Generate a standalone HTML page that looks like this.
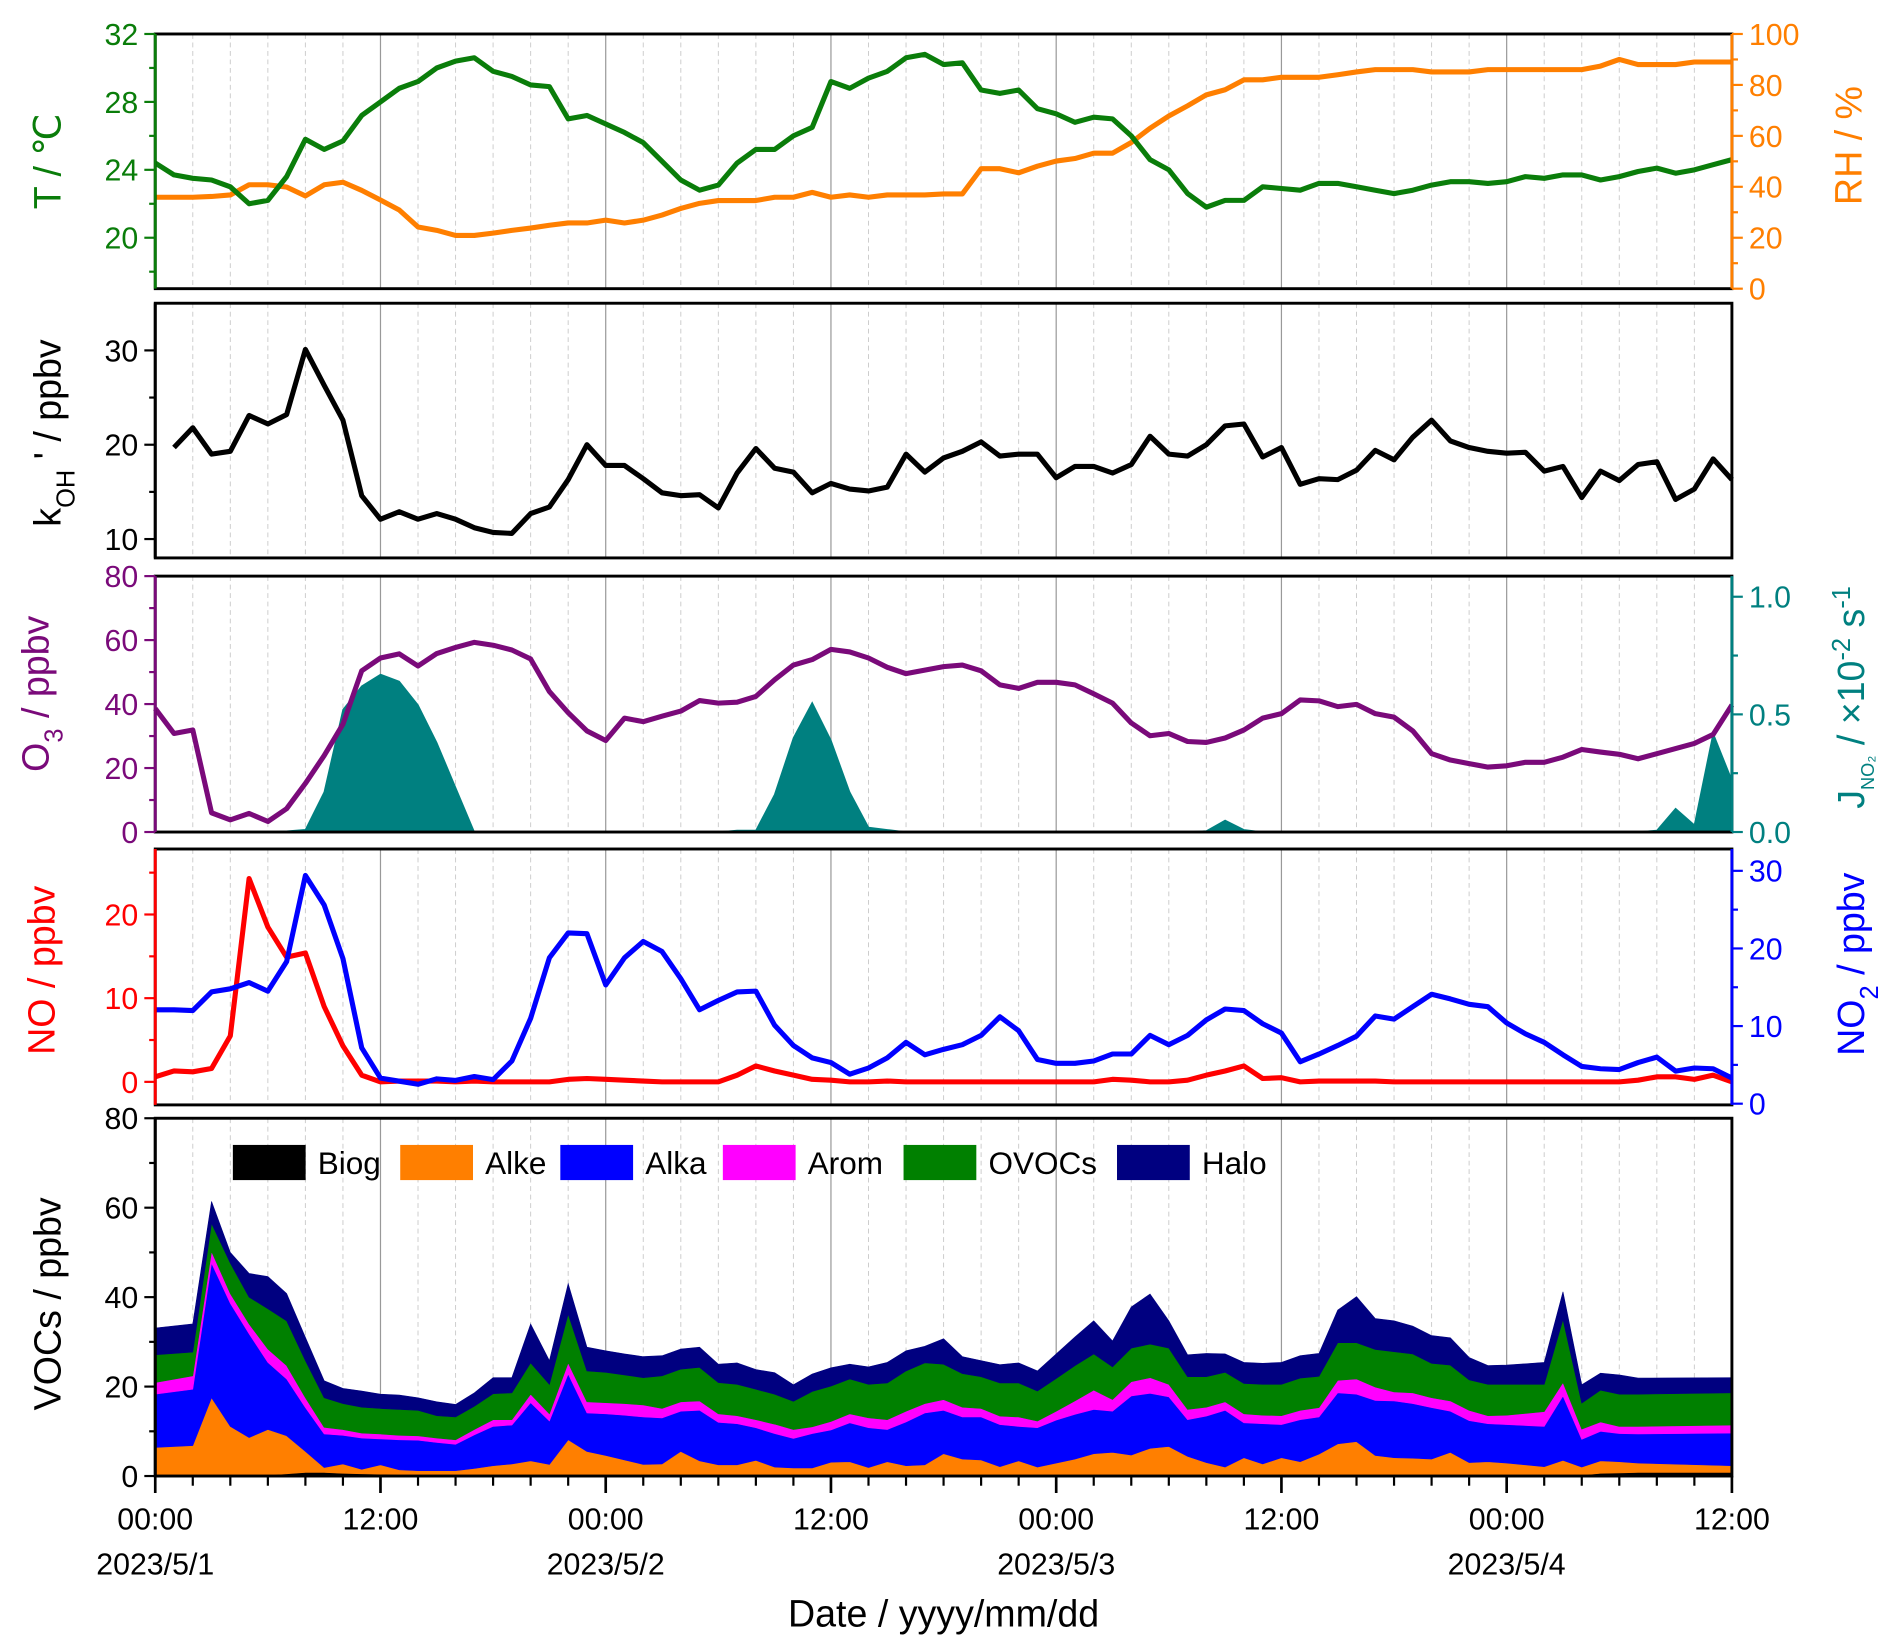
<!DOCTYPE html>
<html><head><meta charset="utf-8"><title>Time series chart</title>
<style>
html,body{margin:0;padding:0;background:#fff;}
svg{display:block;font-family:"Liberation Sans",Arial,sans-serif;}
</style></head>
<body>
<svg id="chart" width="1892" height="1649" viewBox="0 0 1560 1359.6" xmlns="http://www.w3.org/2000/svg"></svg>
<script>
// ---------- DATA ----------
const hourTicks = [0,12,24,36,48,60,72,84];
const hourTickLabels = ["00:00","12:00","00:00","12:00","00:00","12:00","00:00","12:00"];
const dateTicks = [0,24,48,72];
const dateLabels = ["2023/5/1","2023/5/2","2023/5/3","2023/5/4"];

const temperature = [24.4,23.7,23.5,23.4,23.0,22.0,22.2,23.6,25.8,25.2,25.7,27.2,28.0,28.8,29.2,30.0,30.4,30.6,29.8,29.5,29.0,28.9,27.0,27.2,26.7,26.2,25.6,24.5,23.4,22.8,23.1,24.4,25.2,25.2,26.0,26.5,29.2,28.8,29.4,29.8,30.6,30.8,30.2,30.3,28.7,28.5,28.7,27.6,27.3,26.8,27.1,27.0,26.0,24.6,24.0,22.6,21.8,22.2,22.2,23.0,22.9,22.8,23.2,23.2,23.0,22.8,22.6,22.8,23.1,23.3,23.3,23.2,23.3,23.6,23.5,23.7,23.7,23.4,23.6,23.9,24.1,23.8,24.0,24.3,24.6];
const humidity = [35.9,35.9,35.9,36.2,36.8,40.8,40.8,39.9,36.4,40.8,41.8,38.6,34.8,30.9,24.2,22.9,20.9,20.9,21.8,22.9,23.8,24.9,25.8,25.8,26.9,25.8,26.9,28.9,31.5,33.5,34.6,34.6,34.6,35.9,35.9,37.8,35.9,36.8,35.9,36.8,36.8,36.8,37.2,37.2,47.1,47.1,45.5,48.1,50.1,51.1,53.2,53.2,57.4,63.0,67.8,71.8,76.1,78.1,82.0,82.0,83.0,83.0,83.0,84.0,85.1,86.0,86.0,86.0,85.1,85.1,85.1,86,86,86,86,86,86,87.4,90.0,88.0,88,88,89,89,89];
const kOH = [null,19.7,21.8,19.0,19.3,23.1,22.2,23.2,30.1,26.3,22.6,14.6,12.1,12.9,12.1,12.7,12.1,11.2,10.7,10.6,12.7,13.4,16.3,20.0,17.8,17.8,16.4,14.9,14.6,14.7,13.3,17.0,19.6,17.5,17.1,14.9,15.9,15.3,15.1,15.5,19.0,17.1,18.6,19.3,20.3,18.8,19.0,19.0,16.5,17.7,17.7,17.0,17.9,20.9,19.0,18.8,20.0,22.0,22.2,18.7,19.7,15.8,16.4,16.3,17.3,19.4,18.4,20.8,22.6,20.4,19.7,19.3,19.1,19.2,17.2,17.7,14.4,17.2,16.2,17.9,18.2,14.2,15.3,18.5,16.3];
const ozone = [38.6,30.8,31.9,6.0,3.8,5.8,3.3,7.3,15.2,23.9,33.7,50.4,54.4,55.7,51.9,55.8,57.7,59.3,58.4,56.9,54.1,43.9,37.3,31.6,28.6,35.6,34.5,36.2,37.8,41.1,40.3,40.6,42.4,47.6,52.2,53.9,57.1,56.3,54.4,51.5,49.5,50.6,51.7,52.2,50.4,46.0,44.9,46.8,46.8,46.0,43.2,40.3,34.1,30.1,30.8,28.3,28.0,29.4,31.9,35.6,37.0,41.3,41.0,39.2,39.9,37.0,35.9,31.6,24.5,22.5,21.4,20.3,20.7,21.8,21.8,23.4,25.8,25.0,24.3,22.9,24.5,26.1,27.7,30.5,39.7];
const jNO2 = [0,0,0,0,0,0,0,0.004,0.01,0.17,0.52,0.62,0.67,0.64,0.54,0.38,0.19,0,0,0,0,0,0,0,0,0,0,0,0,0,0,0.007,0.007,0.16,0.40,0.55,0.39,0.17,0.02,0.01,0,0,0,0,0,0,0,0,0,0,0,0,0,0,0,0,0.005,0.05,0.01,0,0,0,0,0,0,0,0,0,0,0,0,0,0,0,0,0,0,0,0,0,0.007,0.10,0.03,0.42,0.22];
const no = [0.6,1.3,1.2,1.6,5.5,24.3,18.5,14.9,15.4,9.0,4.3,0.8,0,0.1,0.1,0.1,0,0.1,0,0,0,0,0.3,0.4,0.3,0.2,0.1,0,0,0,0,0.8,1.9,1.3,0.8,0.3,0.2,0,0,0.1,0,0,0,0,0,0,0,0,0,0,0,0.3,0.2,0,0,0.2,0.8,1.3,1.9,0.4,0.5,0,0.1,0.1,0.1,0.1,0,0,0,0,0,0,0,0,0,0,0,0,0,0.2,0.6,0.6,0.3,0.8,0];
const no2 = [12.1,12.1,12.0,14.4,14.8,15.6,14.5,18.3,29.4,25.6,18.7,7.2,3.3,2.9,2.5,3.2,3.0,3.5,3.1,5.5,11.0,18.8,22.0,21.9,15.3,18.8,20.9,19.6,16.1,12.1,13.3,14.4,14.5,10.1,7.5,5.9,5.3,3.8,4.6,5.9,7.9,6.3,7.0,7.6,8.8,11.2,9.4,5.7,5.2,5.2,5.5,6.4,6.4,8.8,7.6,8.8,10.8,12.2,12.0,10.3,9.1,5.4,6.4,7.5,8.7,11.3,10.9,12.5,14.1,13.5,12.8,12.5,10.4,9.0,7.9,6.3,4.8,4.5,4.4,5.3,6.0,4.2,4.6,4.5,3.3];

const vocHours = [0,2,3,4,5,6,7,8,9,10,11,12,13,14,15,16,17,18,19,20,21,22,23,24,25,26,27,28,29,30,31,32,33,34,35,36,37,38,39,40,41,42,43,44,45,46,47,48,49,50,51,52,53,54,55,56,57,58,59,60,61,62,63,64,65,66,67,68,69,70,71,72,74,75,76,77,78,79,84];
const biog = [0.2,0.2,0.2,0.2,0.2,0.2,0.5,0.8,0.8,0.6,0.5,0.4,0.3,0.3,0.3,0.2,0.2,0.2,0.2,0.2,0.2,0.2,0.2,0.2,0.2,0.2,0.2,0.2,0.2,0.2,0.2,0.2,0.2,0.2,0.2,0.2,0.2,0.2,0.2,0.2,0.2,0.2,0.2,0.2,0.2,0.2,0.2,0.2,0.2,0.2,0.2,0.2,0.2,0.2,0.2,0.2,0.2,0.2,0.2,0.2,0.2,0.2,0.2,0.2,0.2,0.2,0.2,0.2,0.2,0.2,0.2,0.2,0.2,0.2,0.2,0.6,0.7,0.8,0.8];
const alke = [6.2,6.6,17.3,10.9,8.4,10.2,8.5,4.7,1.1,2.1,1.0,2.1,1.1,0.9,0.9,1.0,1.5,2.1,2.5,3.2,2.4,7.9,5.3,4.4,3.4,2.4,2.5,5.3,3.2,2.3,2.3,3.3,1.8,1.6,1.6,2.9,3.0,1.7,3.0,2.1,2.3,4.8,3.6,3.4,1.9,3.2,1.8,2.7,3.6,4.8,5.1,4.5,6.0,6.4,4.2,2.8,1.8,3.9,2.5,3.9,3.0,4.7,7.0,7.5,4.4,3.9,3.8,3.6,5.1,2.8,3.0,2.7,1.9,3.3,1.8,2.8,2.5,2.1,1.5];
const alka = [11.9,12.6,30.1,27.5,23.2,15.0,12.7,9.8,7.5,6.4,7.0,5.8,6.7,6.8,6.3,5.9,7.5,8.8,8.7,13.0,9.7,14.7,8.6,9.3,10.0,10.6,10.3,9.0,11.3,9.5,9.2,7.3,7.5,6.6,7.7,7.2,8.7,8.9,7.2,9.8,11.6,9.7,9.4,9.6,9.4,7.7,8.8,9.6,10.0,9.9,9.2,13.2,12.3,11.1,8.2,10.4,12.7,7.8,9.0,7.4,9.4,8.3,11.4,10.6,12.3,12.7,12.2,11.5,9.2,9.4,8.5,8.6,9.0,14.4,6.2,6.6,6.3,6.5,7.3];
const arom = [2.6,3.0,2.6,2.2,2.2,3.0,3.0,2.2,1.5,1.3,1.1,1.1,1.0,1.0,1.0,1.0,1.2,1.5,1.2,1.9,1.6,2.5,2.5,2.5,2.6,2.7,2.1,2.1,2.1,1.9,1.8,1.8,2.1,2.0,1.5,1.9,2.0,2.2,2.2,2.4,2.1,2.4,2.2,1.9,1.9,2.1,1.5,2.0,3.0,4.3,2.6,3.2,3.5,2.8,2.3,2.0,1.9,2.0,1.9,2.0,2.1,2.1,2.8,3.4,3.0,2.0,2.4,2.2,2.3,2.3,1.8,2.1,3.3,3.0,2.3,2.1,1.6,1.7,1.8];
const ovocs = [6.2,5.3,6.3,6.8,6.0,9.0,10.0,8.3,6.6,5.8,5.8,5.7,5.8,5.7,5.0,5.1,5.2,5.8,6.0,7.0,6.6,10.9,6.9,6.8,6.4,6.1,7.3,7.3,7.5,7.0,7.0,6.8,6.7,6.3,7.9,7.9,7.8,7.5,8.2,9.0,9.1,7.9,7.5,7.1,7.4,7.6,6.7,7.3,7.9,8.1,7.3,7.5,7.5,8.1,7.3,6.8,6.6,6.8,6.9,7.0,7.2,7.0,8.4,8.1,8.4,9.0,8.7,7.7,8.0,6.8,7.0,6.9,6.1,14.1,5.8,7.1,7.2,7.2,7.2];
const halo = [6.0,6.3,4.9,2.4,5.3,7.2,6.1,5.2,3.8,3.4,3.6,3.2,3.2,2.8,3.1,2.8,3.0,3.6,3.4,8.7,5.3,6.8,5.3,4.8,4.7,4.7,4.5,4.5,4.5,4.1,4.8,4.4,4.8,3.7,3.9,4.1,3.3,3.9,4.6,4.5,3.7,5.7,3.8,3.6,4.1,4.5,4.5,5.5,6.4,7.4,5.8,9.2,11.2,6.1,4.9,5.2,4.1,4.7,4.7,4.9,5.0,5.1,7.3,10.3,6.9,6.9,6.2,6.2,6.1,5.0,4.2,4.3,4.9,6.2,4.1,3.8,4.3,3.6,3.4];
const vocNames = ["Biog","Alke","Alka","Arom","OVOCs","Halo"];

// ---------- HELPERS ----------
const NS = "http://www.w3.org/2000/svg";
const svg = document.getElementById("chart");
const X0 = 128, X1 = 1428, HMAX = 84;
function xs(h){ return X0 + h*(X1-X0)/HMAX; }
function lin(d0,d1,r0,r1){ return v => r0 + (v-d0)*(r1-r0)/(d1-d0); }
function mk(tag, attrs, parent){
  const e = document.createElementNS(NS, tag);
  for (const k in attrs) e.setAttribute(k, attrs[k]);
  (parent||svg).appendChild(e);
  return e;
}
function txt(s, x, y, size, color, anchor, parent){
  const t = mk("text",{x:x,y:y,"font-size":size,fill:color,"text-anchor":anchor||"middle"},parent);
  t.textContent = s;
  return t;
}

const panels = [
  {name:"met",top:28,bot:238},
  {name:"koh",top:250,bot:460},
  {name:"o3",top:475,bot:686},
  {name:"nox",top:700,bot:911},
  {name:"voc",top:922,bot:1217}
];

panels.forEach(p=>{
  const g = mk("g",{});
  
  
  for (let h=2; h<HMAX; h+=2){
    if (h%12===0){
      mk("line",{x1:xs(h),x2:xs(h),y1:p.top,y2:p.bot,stroke:"#999","stroke-width":1},g);
    } else {
      mk("line",{x1:xs(h),x2:xs(h),y1:p.top,y2:p.bot,stroke:"#ccc","stroke-width":0.8,"stroke-dasharray":"4,3"},g);
    }
  }
});

function drawLine(values, ys, color, name, width){
  let d = "", pen = false;
  values.forEach((v,i)=>{
    if (v===null){ pen=false; return; }
    d += (pen?"L":"M") + xs(i).toFixed(2) + "," + ys(v).toFixed(2);
    pen = true;
  });
  const p = mk("path",{d:d,fill:"none",stroke:color,"stroke-width":width||4.2,"stroke-linejoin":"round"});
  
  
  return p;
}

function yAxis(side, p, ys, majors, minors, color, labelFmt, name){
  const g = mk("g",{});
  
  
  const x = side==="left" ? X0 : X1;
  const dir = side==="left" ? -1 : 1;
  mk("line",{x1:x,x2:x,y1:p.top,y2:p.bot,stroke:color,"stroke-width":2.4},g);
  minors.forEach(v=>{ mk("line",{x1:x,x2:x+dir*5,y1:ys(v),y2:ys(v),stroke:color,"stroke-width":1.8},g); });
  majors.forEach(v=>{
    mk("line",{x1:x,x2:x+dir*9,y1:ys(v),y2:ys(v),stroke:color,"stroke-width":1.8},g);
    const t = txt(labelFmt(v), side==="left"? x-14 : x+14, ys(v)+9, 25, color, side==="left"?"end":"start", g);
    
    
  });
}
function frame(p){
  const r = mk("rect",{x:X0,y:p.top,width:X1-X0,height:p.bot-p.top,fill:"none",stroke:"#000","stroke-width":2.4});
  
  
}
function rotTitle(x, y, color, parts, name){
  const t = mk("text",{x:0,y:0,"font-size":31,fill:color,"text-anchor":"middle",transform:`translate(${x},${y}) rotate(-90)`});
  parts.forEach(pt=>{
    const s = mk("tspan",{},t);
    if (pt.sub){ s.setAttribute("baseline-shift","sub"); s.setAttribute("font-size", pt.fs||21); }
    if (pt.sup){ s.setAttribute("baseline-shift","super"); s.setAttribute("font-size", pt.fs||21); }
    s.textContent = pt.t;
  });
  
  
}

// ---------- PANEL 1 ----------
{
  const p = panels[0];
  const yT = lin(17,32,p.bot,p.top), yRH = lin(0,100,p.bot,p.top);
  drawLine(humidity, yRH, "#ff7f00", "rh-line");
  drawLine(temperature, yT, "#0a7d0a", "temperature-line");
  frame(p);
  yAxis("left", p, yT, [20,24,28,32], [18,22,26,30], "#0a7d0a", v=>String(v), "temperature-axis");
  yAxis("right", p, yRH, [0,20,40,60,80,100], [10,30,50,70,90], "#ff7f00", v=>String(v), "rh-axis");
  rotTitle(50, 133, "#0a7d0a", [{t:"T / ℃"}], "temperature-axis-title");
  rotTitle(1535, 120, "#ff7f00", [{t:"RH / %"}], "rh-axis-title");
}
// ---------- PANEL 2 ----------
{
  const p = panels[1];
  const yk = lin(8,35,p.bot,p.top);
  drawLine(kOH, yk, "#000", "koh-line");
  frame(p);
  yAxis("left", p, yk, [10,20,30], [15,25], "#000", v=>String(v), "koh-axis");
  rotTitle(50, 357, "#000", [{t:"k"},{t:"OH",sub:true},{t:" ' / ppbv"}], "koh-axis-title");
}
// ---------- PANEL 3 ----------
{
  const p = panels[2];
  const yO = lin(0,80,p.bot,p.top), yJ = lin(0,1,p.bot,p.bot-194);
  let d = "M"+xs(0)+","+yJ(0);
  jNO2.forEach((v,i)=>{ d += "L"+xs(i).toFixed(2)+","+yJ(v).toFixed(2); });
  d += "L"+xs(jNO2.length-1)+","+yJ(0)+"Z";
  const a = mk("path",{d:d,fill:"#008080",stroke:"#008080","stroke-width":1});
  
  
  drawLine(ozone, yO, "#7a0a7a", "ozone-line");
  frame(p);
  yAxis("left", p, yO, [0,20,40,60,80], [10,30,50,70], "#7a0a7a", v=>String(v), "ozone-axis");
  yAxis("right", p, yJ, [0,0.5,1.0], [0.25,0.75], "#008080", v=>v.toFixed(1), "jno2-axis");
  rotTitle(40, 572, "#7a0a7a", [{t:"O"},{t:"3",sub:true},{t:" / ppbv"}], "ozone-axis-title");
  rotTitle(1537, 575, "#008080", [{t:"J"},{t:"NO₂",sub:true,fs:15},{t:" / ×10"},{t:"-2",sup:true},{t:" s"},{t:"-1",sup:true}], "jno2-axis-title");
}
// ---------- PANEL 4 ----------
{
  const p = panels[3];
  const yNO = lin(0,20,892,754), yNO2 = lin(0,30,910,718);
  drawLine(no, yNO, "#ff0000", "no-line");
  drawLine(no2, yNO2, "#0000ff", "no2-line");
  frame(p);
  yAxis("left", p, yNO, [0,10,20], [5,15,25], "#ff0000", v=>String(v), "no-axis");
  yAxis("right", p, yNO2, [0,10,20,30], [5,15,25], "#0000ff", v=>String(v), "no2-axis");
  rotTitle(45, 800, "#ff0000", [{t:"NO / ppbv"}], "no-axis-title");
  rotTitle(1537, 795, "#0000ff", [{t:"NO"},{t:"2",sub:true},{t:" / ppbv"}], "no2-axis-title");
}
// ---------- PANEL 5 ----------
{
  const p = panels[4];
  const yV = lin(0,80,p.bot,p.top);
  const series = [biog, alke, alka, arom, ovocs, halo];
  const colors = ["#000000","#ff7f00","#0000ff","#ff00ff","#008000","#000080"];
  let base = vocHours.map(()=>0);
  series.forEach((s,k)=>{
    const top = base.map((b,i)=>b+s[i]);
    let d = "";
    vocHours.forEach((h,i)=>{ d += (i?"L":"M")+xs(h).toFixed(2)+","+yV(top[i]).toFixed(2); });
    for (let i=vocHours.length-1;i>=0;i--) d += "L"+xs(vocHours[i]).toFixed(2)+","+yV(base[i]).toFixed(2);
    d += "Z";
    const a = mk("path",{d:d,fill:colors[k],stroke:colors[k],"stroke-width":0.5});
    
    
    base = top;
  });
  frame(p);
  yAxis("left", p, yV, [0,20,40,60,80], [10,30,50,70], "#000", v=>String(v), "voc-axis");
  rotTitle(50, 1075, "#000", [{t:"VOCs / ppbv"}], "voc-axis-title");
  const lg = mk("g",{});
  
  
  const lx = [192,330,462,596,745,921];
  vocNames.forEach((n,k)=>{
    const e = mk("g",{},lg);
    
    
    mk("rect",{x:lx[k],y:944,width:60,height:29,fill:colors[k]},e);
    txt(n, lx[k]+70, 968, 26, "#000", "start", e);
  });
  const xg = mk("g",{});
  
  
  for (let h=0; h<=HMAX; h+=2){
    const major = h%12===0;
    mk("line",{x1:xs(h),x2:xs(h),y1:p.bot,y2:p.bot+(major?14:8),stroke:"#000","stroke-width":major?2.2:1.8},xg);
  }
  hourTicks.forEach((h,i)=>{
    const t = txt(hourTickLabels[i], xs(h), 1261, 25, "#000", "middle", xg);
    
    
  });
  dateTicks.forEach((h,i)=>{
    const t = txt(dateLabels[i], xs(h), 1298, 25, "#000", "middle", xg);
    
    
  });
  const xt = txt("Date / yyyy/mm/dd", 778, 1341, 31, "#000", "middle");
  
  
}
</script>
</body></html>
